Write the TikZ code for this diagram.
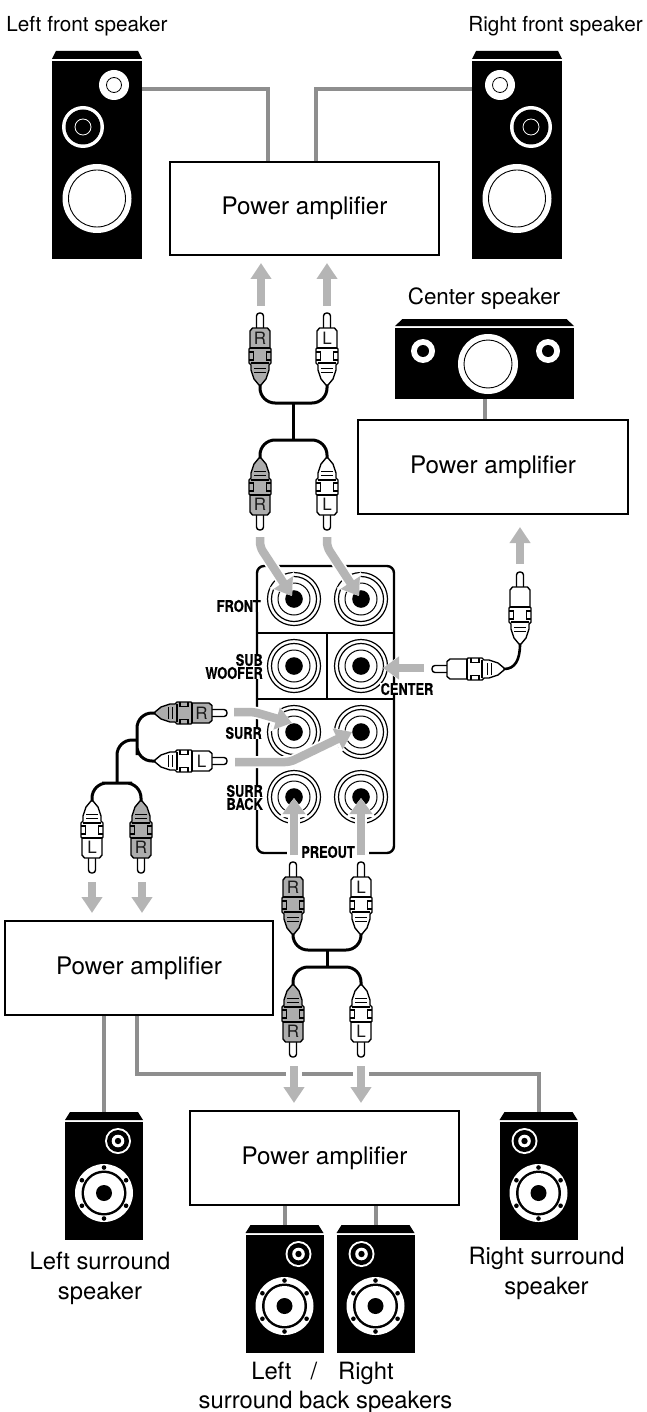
\documentclass[tikz,border=0pt]{standalone}
\usepackage{fontspec}
\setmainfont{TeX Gyre Heros}
\newfontfamily\jackfont[FakeStretch=0.8,FakeBold=0.5]{TeX Gyre Heros}
\usetikzlibrary{arrows.meta, positioning}
\definecolor{arrowgray}{HTML}{B5B5B5}
\definecolor{wiregray}{HTML}{8E8E8E}
\definecolor{plugdark}{HTML}{ADADAD}
\tikzstyle{amp} = [draw, line width=2.6pt, rectangle, fill=white,
    font=\fontsize{24.2}{28}\selectfont]
\tikzstyle{cabinet} = [fill=black, inner sep=0pt, outer sep=0pt, anchor=north]
\tikzstyle{panel} = [draw, line width=2.4pt, rectangle, rounded corners=7pt, inner sep=0pt]
\tikzstyle{wire} = [draw=wiregray, line width=4pt]
\tikzstyle{cable} = [draw, line width=3pt, rounded corners=15pt]
\tikzstyle{sig} = [draw=arrowgray, line width=7.5pt, rounded corners=5pt,
    -{Triangle[width=20pt,length=16pt]}]
\tikzstyle{sigin} = [draw=arrowgray, line width=8.5pt, rounded corners=5pt,
    -{Triangle[width=22pt,length=16pt]}]
\tikzstyle{halo} = [draw=white, line width=12pt, rounded corners=5pt,
    -{Triangle[width=28pt,length=19pt]}]
\tikzstyle{gap} = [draw=white, line width=16pt]
\tikzstyle{plugline} = [draw, line width=1.4pt, line join=round]
\tikzstyle{jacklabel} = [fill=white, inner xsep=1pt, inner ysep=0pt,
    font=\jackfont\bfseries\fontsize{16}{13}\selectfont, align=right]
\tikzstyle{toplabel} = [font=\fontsize{20.7}{24}\selectfont]
\tikzstyle{botlabel} = [font=\fontsize{23.8}{30}\selectfont, align=center]
\tikzset{
  pics/rcaplug/.style 2 args={code={
    \draw [plugline, fill=white, rounded corners=3pt] (-3.5,17) -- (-3.5,0) -- (3.5,0) -- (3.5,17);
    \draw [plugline, fill=#1] (-7.5,15) -- (7.5,15) -- (10,18) -- (10,35) -- (11,36) -- (11,50)
      -- (9,52) -- (9,57) -- (6,66) -- (1,72) -- (-1,72) -- (-6,66) -- (-9,57) -- (-9,52)
      -- (-11,50) -- (-11,36) -- (-10,35) -- (-10,18) -- cycle;
    \draw [line width=1.1pt] (-10,35) -- (10,35) (-9,50) -- (9,50);
    \draw [line width=1.1pt] (-11,39) -- (-6.5,39) -- (-6.5,47) -- (-11,47);
    \draw [line width=1.1pt] (11,39) -- (6.5,39) -- (6.5,47) -- (11,47);
    \draw [line width=.7pt] (-6,55) -- (6,55) (-6,59) -- (6,59);
    \node [inner sep=0pt, text=black!90, font=\fontsize{17}{18}\selectfont] (-letter) at (0,25.5) {#2};
    \coordinate (-tail) at (0,72);
  }},
  pics/jack/.style={code={
    \draw [line width=1.2pt, fill=white] (0,0) circle (26.5);
    \draw [line width=1.2pt] (0,0) circle (22.5);
    \draw [line width=1pt] (0,0) circle (16);
    \fill (0,0) circle (8.8);
  }},
  pics/frontspk/.style={code={
    \node [cabinet, minimum width=90pt, minimum height=198pt] (-body) at (0,0) {};
    \fill (-41,-10) -- (41,-10) -- (45,-2) -- (-45,-2) -- cycle;
    \coordinate (-top) at (0,-10);
    \fill [white] (17,24) circle (15);
    \draw [line width=.8pt] (17,24) circle (7.5);
    \fill [white] (-14,66) circle (21);
    \fill (-14,66) circle (17.5);
    \draw [white, line width=.8pt] (-14,66) circle (8);
    \fill [white] (0,137.5) circle (34.5);
    \draw [line width=.9pt] (0,137.5) circle (28.5);
  }},
  pics/surrspk/.style={code={
    \node [cabinet, minimum width=78pt, minimum height=118pt] (-body) at (0,0) {};
    \fill (-34,-10) -- (34,-10) -- (39,-2) -- (-39,-2) -- cycle;
    \coordinate (-top) at (0,-10);
    \fill [white] (14,19) circle (13);
    \fill (14,19) circle (11);
    \fill [white] (14,19) circle (6.3);
    \fill (14,19) circle (3.2);
    \fill [white] (0,71) circle (29);
    \fill (0,71) circle (22.5);
    \fill [white] (0,71) circle (20);
    \fill (0,71) circle (8);
    \foreach \ang in {30,90,...,330}
      \fill ([shift={(0,71)}]\ang:25.5) circle (2.3);
  }},
  pics/centerspk/.style={code={
    \node [cabinet, minimum width=179pt, minimum height=71pt] (-body) at (0,0) {};
    \fill (-82,-9) -- (82,-9) -- (89.5,-2) -- (-89.5,-2) -- cycle;
    \fill [white] (3.5,36) circle (30);
    \draw [line width=.9pt] (3.5,36) circle (24);
    \fill [white] (-61.5,23) circle (12);
    \fill (-61.5,23) circle (6);
    \fill [white] (63.5,23) circle (12);
    \fill (63.5,23) circle (6);
  }}
}

\begin{document}
\begin{tikzpicture}[x=1pt, y=-1pt]
    \useasboundingbox (0,0) rectangle (646,1412);
    % We start by placing the amplifiers
    \node [amp, minimum width=269pt, minimum height=93pt] (ampfront) at (304.5,208.5) {Power amplifier};
    \node [amp, minimum width=270pt, minimum height=94pt] (ampcenter) at (493,467) {Power amplifier};
    \node [amp, minimum width=268pt, minimum height=94pt] (ampsurr) at (139,968) {Power amplifier\hspace{12pt}};
    \node [amp, minimum width=269pt, minimum height=94pt] (ampback) at (324.5,1158) {Power amplifier};

    % The speakers
    \pic (lfront) at (97,61) {frontspk};
    \pic [xscale=-1] (rfront) at (517,61) {frontspk};
    \pic (cspk) at (484.5,328) {centerspk};
    \pic (lsurr) at (104,1122) {surrspk};
    \pic [xscale=-1] (rsurr) at (538.5,1122) {surrspk};
    \pic (lback) at (284.5,1235) {surrspk};
    \pic [xscale=-1] (rback) at (375.5,1235) {surrspk};

    \node [toplabel] (lfrontname) at (87,26) {Left front speaker};
    \node [toplabel] (rfrontname) at (555.5,26) {Right front speaker};
    \node [toplabel, font=\fontsize{22.4}{26}\selectfont] (cspkname) at (484,299) {Center speaker};
    \node [botlabel] (lsurrname) at (100,1278) {Left surround\\speaker};
    \node [botlabel] (rsurrname) at (546.5,1273) {Right surround\\speaker};
    \node [botlabel] (backlr) at (322.5,1373) {Left\hspace{19pt}/\hspace{21pt}Right};
    \node [botlabel] (backname) at (325.5,1402) {surround back speakers};

    % Speaker wires
    \coordinate (lfronttap) at (268,89);
    \coordinate (rfronttap) at (316,89);
    \coordinate (surrtap) at (137,1074);
    \draw [wire] (lfront-body.east |- lfronttap) -- (lfronttap) -- (lfronttap |- ampfront.north);
    \draw [wire] (rfront-body.west |- rfronttap) -- (rfronttap) -- (rfronttap |- ampfront.north);
    \draw [wire] (cspk-body.south) -- (cspk-body.south |- ampcenter.north);
    \draw [wire] (lsurr-top) -- (lsurr-top |- ampsurr.south);
    \draw [wire] (ampsurr.south -| surrtap) -- (surrtap) -| (rsurr-top);
    \draw [wire] (lback-top) -- (lback-top |- ampback.south);
    \draw [wire] (rback-top) -- (rback-top |- ampback.south);

    % The jack panel
    \node [panel, minimum width=137pt, minimum height=287pt] (board) at (325.5,709.5) {};
    \coordinate (divone) at (327,633);
    \coordinate (divtwo) at (327,699);
    \draw [line width=2.2pt] (board.west |- divone) -- (board.east |- divone);
    \draw [line width=2.2pt] (board.west |- divtwo) -- (board.east |- divtwo);
    \draw [line width=1.6pt] (divone) -- (divtwo);
    \foreach \nm/\xx/\yy in {fl/294/599, fr/361/599, sw/294/666, cn/361/666,
        sl/294/732, sr/361/732, bl/294/797, br/361/797}
      \pic (\nm) at (\xx,\yy) {jack};

    \node [jacklabel, anchor=east] (frontlab) at (262,606) {FRONT};
    \node [jacklabel, anchor=east] (sublab) at (264,666.5) {SUB\\WOOFER};
    \node [jacklabel] (centerlab) at (407,689) {CENTER};
    \node [jacklabel, anchor=east] (surrlab) at (263,733) {SURR};
    \node [jacklabel, anchor=east] (backlab) at (264,797.5) {SURR\\BACK};
    \node [jacklabel, inner xsep=14pt] (preoutlab) at (328,852) {PREOUT};

    % The plugs
    \pic (afr) at (260,313) {rcaplug={plugdark}{R}};
    \pic (afl) at (327,313) {rcaplug={white}{L}};
    \pic [rotate=180] (bfr) at (260,530) {rcaplug={plugdark}{R}};
    \pic [rotate=180] (bfl) at (327,530) {rcaplug={white}{L}};
    \pic (cup) at (520,572) {rcaplug={white}{}};
    \pic [rotate=90] (cside) at (432,669) {rcaplug={white}{}};
    \pic [rotate=-90] (asr) at (227,713) {rcaplug={plugdark}{R}};
    \pic [rotate=-90] (asl) at (227,761) {rcaplug={white}{L}};
    \pic [rotate=180] (bsl) at (92,873) {rcaplug={white}{L}};
    \pic [rotate=180] (bsr) at (141,873) {rcaplug={plugdark}{R}};
    \pic (abr) at (293,862) {rcaplug={plugdark}{R}};
    \pic (abl) at (361,862) {rcaplug={white}{L}};
    \pic [rotate=180] (bbr) at (293,1057) {rcaplug={plugdark}{R}};
    \pic [rotate=180] (bbl) at (361,1057) {rcaplug={white}{L}};

    % Cables between the plugs
    \coordinate (frontup) at (293.5,403);
    \coordinate (frontdown) at (293.5,440);
    \coordinate (backup) at (327,950);
    \coordinate (backdown) at (327,967);
    \coordinate (surrhi) at (137,740);
    \coordinate (surrlo) at (117,783);
    \draw [cable] (afr-tail) |- (frontup) -| (afl-tail);
    \draw [cable] (bfr-tail) |- (frontdown) -| (bfl-tail);
    \draw [cable, rounded corners=0pt] (frontup) -- (frontdown);
    \draw [cable] (abr-tail) |- (backup) -| (abl-tail);
    \draw [cable] (bbr-tail) |- (backdown) -| (bbl-tail);
    \draw [cable, rounded corners=0pt] (backup) -- (backdown);
    \draw [cable] (asr-tail) -| (surrhi) |- (asl-tail);
    \draw [cable] (bsl-tail) |- (surrlo) -| (bsr-tail);
    \draw [cable] (surrhi) -| (surrlo);
    \draw [line width=2.6pt] (cside-tail) .. controls (515,669) and (520,660) .. (cup-tail);

    % Signal arrows
    \coordinate (fra) at (261,306);
    \coordinate (frb) at (261,263);
    \coordinate (fla) at (327,306);
    \coordinate (flb) at (327,263);
    \draw [sig] (fra) -- (frb);
    \draw [sig] (fla) -- (flb);
    \coordinate (ca) at (520,564);
    \coordinate (cb) at (520,527);
    \draw [sig] (ca) -- (cb);
    \coordinate (sla) at (92,882);
    \coordinate (slb) at (92,913);
    \coordinate (sra) at (142,882);
    \coordinate (srb) at (142,913);
    \draw [sig] (sla) -- (slb);
    \draw [sig] (sra) -- (srb);
    \coordinate (bla) at (294,1066);
    \coordinate (blb) at (294,1103);
    \coordinate (bra) at (361,1066);
    \coordinate (brb) at (361,1103);
    \draw [gap] (bla) -- ++(0,20);
    \draw [gap] (bra) -- ++(0,20);
    \draw [sig] (bla) -- (blb);
    \draw [sig] (bra) -- (brb);

    % Arrows into the panel
    \coordinate (ia) at (260,537);
    \coordinate (ib) at (260,547);
    \coordinate (ic) at (292,596);
    \coordinate (ja) at (327,537);
    \coordinate (jb) at (327,547);
    \coordinate (jc) at (359,596);
    \coordinate (ka) at (424,668);
    \coordinate (kb) at (383,668);
    \coordinate (la) at (234,712);
    \coordinate (lb) at (254,712);
    \coordinate (lc) at (292,723);
    \coordinate (ma) at (235,762);
    \coordinate (mb) at (290,762);
    \coordinate (mc) at (352,732);
    \coordinate (na) at (294,855);
    \coordinate (nb) at (294,798);
    \coordinate (oa) at (361,855);
    \coordinate (ob) at (361,798);
    \foreach \sty in {halo, sigin} {
      \draw [\sty] (ia) -- (ib) -- (ic);
      \draw [\sty] (ja) -- (jb) -- (jc);
      \draw [\sty] (ka) -- (kb);
      \draw [\sty] (la) -- (lb) -- (lc);
      \draw [\sty] (ma) -- (mb) -- (mc);
      \draw [\sty] (na) -- (nb);
      \draw [\sty] (oa) -- (ob);
    }
\end{tikzpicture}
\end{document}
